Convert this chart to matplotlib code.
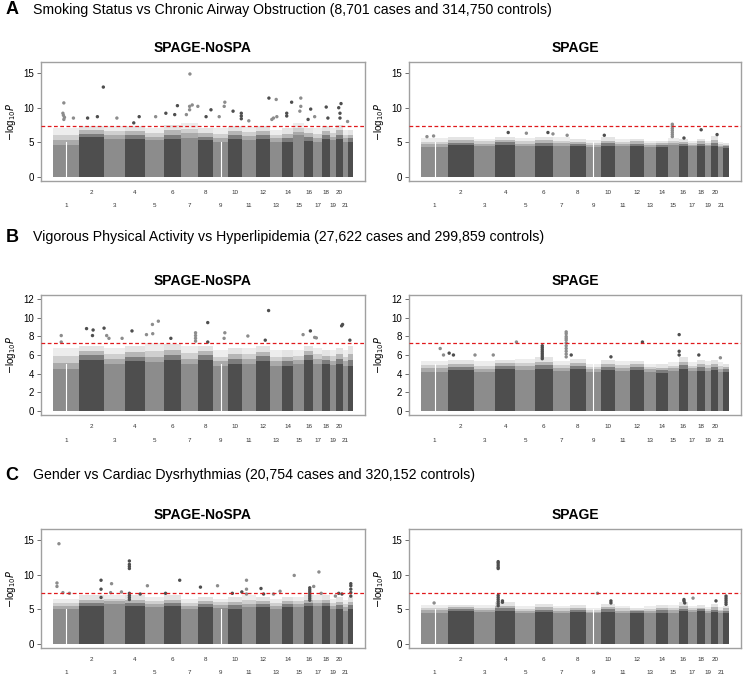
import numpy as np
import matplotlib.pyplot as plt

plt.rcParams['font.family'] = ['Liberation Sans', 'DejaVu Sans']

# chromosome lengths (Mb, hg19), x axis is cumulative position
chrom_len = [249, 243, 198, 191, 181, 171, 159, 146, 141, 136, 135,
             134, 115, 107, 103, 90, 81, 78, 59, 63, 48, 51]
chrom_labels = [str(i) for i in range(1, 22)]
# centromere gaps seen in the plot (cumulative Mb)
gap_pos = [125, 1610]

row_titles = ["Smoking Status vs Chronic Airway Obstruction (8,701 cases and 314,750 controls)",
              "Vigorous Physical Activity vs Hyperlipidemia (27,622 cases and 299,859 controls)",
              "Gender vs Cardiac Dysrhythmias (20,754 cases and 320,152 controls)"]
row_letters = ["A", "B", "C"]
method_names = ["SPAGE-NoSPA", "SPAGE"]
ylims = [16, 12, 16]
yticks = [[0, 5, 10, 15], [0, 2, 4, 6, 8, 10, 12], [0, 5, 10, 15]]

# --- A: smoking / airway obstruction ---
a1_solid = [4.6, 5.8, 5.5, 5.5, 5.3, 5.5, 5.6, 5.3, 5.0, 5.5, 5.3, 5.5, 5.0, 5.0, 6.0, 5.2, 5.0, 5.5, 5.3, 5.5, 5.0, 5.0]
a1_fringe = [7.0, 7.3, 7.3, 7.3, 7.0, 7.5, 7.8, 7.0, 7.0, 7.3, 7.2, 7.3, 6.8, 7.0, 7.8, 7.0, 7.0, 7.3, 7.0, 7.5, 6.8, 6.8]
a1_pos = [104, 95, 100, 110, 104, 196, 332, 426, 483, 613, 827, 775, 985, 1083, 1168, 1194,
          1314, 1311, 1336, 1311, 1280, 1390, 1516, 1469, 1649, 1643, 1595, 1728, 1807, 1807,
          1807, 1879, 2072, 2116, 2100, 2142, 2148, 2290, 2243, 2243, 2378, 2378, 2369, 2473,
          2448, 2511, 2622, 2638, 2742, 2764, 2754, 2754, 2827]
a1_val = [10.7, 9.2, 8.9, 8.6, 8.3, 8.5, 8.5, 8.7, 13.0, 8.5, 8.7, 7.8, 8.7, 9.2, 9.0, 10.3,
          14.9, 10.2, 10.4, 9.7, 9.0, 10.2, 9.7, 8.7, 10.8, 10.2, 8.7, 9.5, 9.2, 8.8,
          8.4, 8.1, 11.4, 8.5, 8.3, 11.2, 8.7, 10.8, 9.2, 8.8, 11.4, 10.2, 9.5, 9.8,
          8.3, 8.7, 10.1, 8.5, 10.0, 10.6, 9.2, 8.5, 8.0]

a2_solid = [4.3, 4.6, 4.5, 4.6, 4.4, 4.5, 4.5, 4.4, 4.3, 4.5, 4.4, 4.5, 4.3, 4.3, 4.6, 4.4, 4.4, 4.5, 4.4, 4.5, 4.3, 4.2]
a2_fringe = [5.6, 5.7, 5.5, 5.8, 5.6, 5.8, 5.7, 5.5, 5.3, 5.7, 5.4, 5.5, 5.2, 5.2, 5.6, 5.4, 5.2, 5.5, 5.2, 5.9, 5.0, 4.9]
a2_pos = [2351, 2351, 2351, 2351, 2351, 2351, 2351, 2621, 814, 984, 1186, 1233, 1366,
          53, 115, 1714, 2770, 2460]
a2_val = [7.6, 7.3, 7.0, 6.7, 6.4, 6.1, 5.8, 6.8, 6.4, 6.3, 6.4, 6.2, 6.0,
          5.8, 5.9, 6.0, 6.1, 5.6]

# --- B: physical activity / hyperlipidemia ---
b1_solid = [4.5, 5.5, 5.0, 5.3, 5.2, 5.5, 5.0, 5.5, 4.8, 5.0, 5.0, 5.4, 4.8, 4.8, 5.0, 5.5, 5.0, 5.0, 4.9, 5.0, 4.8, 4.8]
b1_fringe = [6.8, 7.0, 6.8, 7.0, 7.3, 7.2, 7.0, 7.0, 6.5, 6.8, 6.8, 7.0, 6.5, 6.5, 6.5, 7.0, 6.8, 6.5, 6.5, 6.8, 6.5, 7.0]
b1_pos = [79, 79, 322, 385, 379, 490, 515, 537, 663, 758, 897, 954, 1011, 957, 1131,
          1368, 1368, 1368, 1368, 1485, 1485, 1649, 1642, 1870, 2069, 2037,
          2400, 2470, 2527, 2511, 2779, 2770, 2849]
b1_val = [8.1, 7.4, 8.85, 8.7, 8.1, 8.9, 8.1, 7.8, 7.8, 8.6, 8.2, 9.3, 9.65, 8.3, 7.8,
          8.4, 8.1, 7.8, 7.5, 9.5, 7.4, 8.4, 7.8, 8.05, 10.8, 7.6,
          8.2, 8.6, 7.85, 7.9, 9.3, 9.15, 7.6]

b2_solid = [4.2, 4.4, 4.2, 4.5, 4.4, 4.5, 4.3, 4.5, 4.2, 4.4, 4.3, 4.4, 4.2, 4.1, 4.3, 4.5, 4.3, 4.3, 4.3, 4.4, 4.2, 4.2]
b2_fringe = [5.4, 5.5, 5.3, 5.5, 5.6, 5.8, 5.4, 5.6, 5.0, 5.5, 5.3, 5.4, 5.0, 5.0, 5.2, 5.8, 5.2, 5.5, 5.3, 5.5, 5.2, 5.0]
b2_pos = [1133, 1133, 1133, 1133, 1133, 1133, 1133, 1133,
          1357, 1357, 1357, 1357, 1357, 1357, 1357, 1357, 1357, 1357, 1357,
          891, 2071, 2415, 2415, 2415, 177, 208, 261, 301, 503, 674, 1404, 2801, 2599, 1776]
b2_val = [7.0, 6.8, 6.6, 6.4, 6.2, 6.0, 5.8, 5.6,
          8.5, 8.3, 8.0, 7.8, 7.6, 7.3, 7.0, 6.7, 6.4, 6.1, 5.8,
          7.4, 7.4, 8.2, 6.4, 6.0, 6.7, 6.0, 6.2, 6.0, 6.0, 6.0, 6.0, 5.7, 6.0, 5.8]

# --- C: gender / cardiac dysrhythmias ---
c1_solid = [5.0, 5.5, 5.8, 5.5, 5.3, 5.5, 5.0, 5.3, 5.2, 5.0, 5.3, 5.3, 5.0, 5.3, 5.3, 5.5, 5.5, 5.5, 5.0, 5.0, 4.8, 5.0]
c1_fringe = [6.5, 7.0, 7.0, 7.0, 6.8, 7.0, 6.5, 6.8, 6.5, 6.8, 7.0, 6.8, 6.5, 6.8, 6.8, 7.0, 7.0, 7.0, 6.5, 6.8, 6.3, 6.8]
c1_pos = [57, 38, 38, 95, 158, 461, 461, 461, 562, 553, 657,
          733, 733, 733, 733, 733, 733, 733, 733, 837, 906, 1216, 1080, 1415,
          1579, 1721, 1812, 1857, 1857, 1857, 1996, 2021, 2179, 2116, 2315,
          2464, 2464, 2464, 2464, 2464, 2464, 2464, 2502, 2552, 2574, 2710, 2742, 2773,
          2858, 2858, 2858, 2858, 2858]
c1_val = [14.5, 8.8, 8.3, 7.4, 7.3, 9.2, 7.9, 6.7, 8.7, 7.4, 7.5,
          12.0, 11.5, 11.2, 10.9, 7.3, 7.0, 6.7, 6.4, 7.2, 8.4, 9.2, 7.3, 8.2,
          8.4, 7.3, 7.5, 9.2, 7.9, 7.2, 8.0, 7.2, 7.6, 7.2, 9.9,
          8.1, 7.8, 7.5, 7.2, 6.9, 6.6, 6.3, 8.3, 10.4, 7.3, 6.9, 7.3, 7.2,
          8.7, 8.4, 7.9, 7.4, 6.9]

c2_solid = [4.5, 4.8, 4.6, 4.8, 4.5, 4.6, 4.5, 4.6, 4.4, 4.6, 4.5, 4.5, 4.4, 4.5, 4.5, 4.7, 4.6, 4.7, 4.5, 4.6, 4.4, 4.5]
c2_fringe = [5.6, 5.6, 5.6, 6.0, 5.4, 5.7, 5.5, 5.6, 5.2, 5.8, 5.5, 5.2, 5.4, 5.6, 5.6, 6.0, 5.5, 5.6, 5.3, 5.7, 5.3, 5.5]
c2_pos = [720, 720, 720, 720, 720, 720, 720, 720, 720, 720, 720,
          2460, 2460, 2467, 2545, 2760, 2854, 2854, 2854, 2854, 2854,
          1650, 1776, 1776, 760, 760, 120]
c2_val = [11.9, 11.7, 11.4, 11.1, 10.9, 7.0, 6.7, 6.4, 6.1, 5.8, 5.5,
          6.4, 6.2, 5.9, 6.6, 6.2, 6.9, 6.6, 6.3, 6.0, 5.7,
          7.3, 6.2, 5.9, 6.2, 6.0, 5.9]

panels = [[(a1_solid, a1_fringe, a1_pos, a1_val), (a2_solid, a2_fringe, a2_pos, a2_val)],
          [(b1_solid, b1_fringe, b1_pos, b1_val), (b2_solid, b2_fringe, b2_pos, b2_val)],
          [(c1_solid, c1_fringe, c1_pos, c1_val), (c2_solid, c2_fringe, c2_pos, c2_val)]]

light, dark = '#8c8c8c', '#4e4e4e'
starts = np.concatenate([[0], np.cumsum(chrom_len)[:-1]])
total = sum(chrom_len)
centers = starts + np.array(chrom_len) / 2
chrom_cols = [light if i % 2 == 0 else dark for i in range(len(chrom_len))]

fig = plt.figure(figsize=(7.44, 6.78), dpi=100)
W, H = 744, 678

frames_y = [(62, 181), (295, 415), (529, 648)]
frames_x = [(41, 365), (409, 741)]
row_title_y = [10, 237, 475]

for r in range(3):
    fig.text(12 / W, 1 - row_title_y[r] / H, row_letters[r], fontsize=13, fontweight='bold',
             ha='center', va='center')
    fig.text(33 / W, 1 - row_title_y[r] / H, row_titles[r], fontsize=10.2, ha='left', va='center')
    top, bot = frames_y[r]
    for c in range(2):
        left, right = frames_x[c]
        ax = fig.add_axes([left / W, 1 - bot / H, (right - left) / W, (bot - top) / H])
        solid, fringe, pos, val = panels[r][c]
        solid = np.array(solid)
        fringe = np.array(fringe)
        # thinning cloud above the dense block: three fading layers
        for frac, al in [(1.0, 0.15), (0.6, 0.3), (0.3, 0.55)]:
            ax.bar(starts, solid + frac * (fringe - solid), width=chrom_len, align='edge',
                   color=chrom_cols, alpha=al, linewidth=0)
        ax.bar(starts, solid, width=chrom_len, align='edge', color=chrom_cols, linewidth=0)
        for g in gap_pos:
            ax.plot([g, g], [0, 5], color='white', lw=0.8)
        pos = np.array(pos)
        idx = np.searchsorted(starts, pos, side='right') - 1
        ax.scatter(pos, val, s=6, c=[chrom_cols[i] for i in idx], linewidths=0, zorder=3)
        ax.axhline(-np.log10(5e-8), color='#e0191c', ls=(0, (3, 2)), lw=0.9, zorder=4)

        ax.set_xlim(-0.04 * total, 1.04 * total)
        ax.set_ylim(-0.04 * ylims[r], 1.04 * ylims[r])
        ax.set_yticks(yticks[r])
        ax.set_xticks([])
        ax.tick_params(axis='y', labelsize=7, length=3, width=0.6, color='#555555', pad=2)
        for s in ax.spines.values():
            s.set_color('#a0a0a0')
            s.set_linewidth(1.0)
        ax.set_ylabel(r'$-\mathregular{log}_{10}P$', fontsize=7, labelpad=4)
        for i, lab in enumerate(chrom_labels):
            off = -8.5 if (i + 1) % 2 == 0 else -18
            ax.annotate(lab, xy=(centers[i], 0), xycoords=ax.get_xaxis_transform(),
                        xytext=(0, off), textcoords='offset points', ha='center', va='center',
                        fontsize=4.5, color='#333333')
        fig.text((left + right) / 2 / W, 1 - (top - 14) / H, method_names[c], fontsize=10,
                 fontweight='bold', ha='center', va='center')

fig.savefig('out.png', dpi=100)
